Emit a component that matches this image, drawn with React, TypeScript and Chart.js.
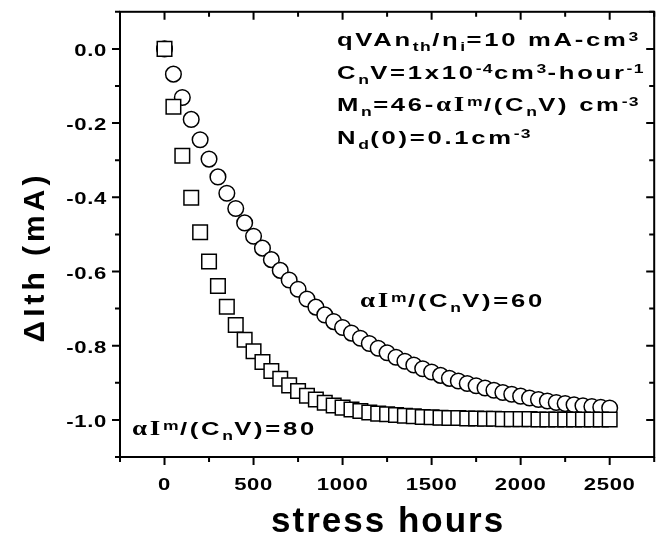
import { useEffect, useRef } from "react";
import { Chart, registerables } from "chart.js";

Chart.register(...registerables);

// ---- data ----
const HOURS = [
  0, 50, 100, 150, 200, 250, 300, 350, 400, 450, 500, 550, 600, 650, 700, 750, 800, 850, 900, 950,
  1000, 1050, 1100, 1150, 1200, 1250, 1300, 1350, 1400, 1450, 1500, 1550, 1600, 1650, 1700, 1750,
  1800, 1850, 1900, 1950, 2000, 2050, 2100, 2150, 2200, 2250, 2300, 2350, 2400, 2450, 2500,
];

// alpha I^m / (CnV) = 60  (circles)
const DELTA_ITH_60 = [
  0, -0.068, -0.131, -0.19, -0.245, -0.297, -0.345, -0.389, -0.43, -0.469, -0.505, -0.537, -0.568,
  -0.597, -0.623, -0.648, -0.674, -0.696, -0.717, -0.735, -0.751, -0.766, -0.78, -0.794, -0.807,
  -0.819, -0.831, -0.842, -0.852, -0.862, -0.871, -0.88, -0.888, -0.895, -0.902, -0.908, -0.914,
  -0.92, -0.926, -0.931, -0.936, -0.941, -0.945, -0.949, -0.953, -0.956, -0.959, -0.962, -0.964,
  -0.966, -0.968,
];

// alpha I^m / (CnV) = 80  (squares)
const DELTA_ITH_80 = [
  0, -0.156, -0.288, -0.401, -0.494, -0.573, -0.639, -0.695, -0.744, -0.784, -0.815, -0.844, -0.868,
  -0.889, -0.907, -0.922, -0.935, -0.945, -0.954, -0.961, -0.967, -0.972, -0.976, -0.98, -0.983,
  -0.985, -0.987, -0.989, -0.99, -0.992, -0.993, -0.994, -0.995, -0.995, -0.996, -0.996, -0.997,
  -0.997, -0.998, -0.998, -0.998, -0.998, -0.999, -0.999, -0.999, -0.999, -0.999, -0.999, -0.999,
  -0.999, -0.999,
];

const X_MIN = -250;
const X_MAX = 2750;
const X_STEP = 250;
const X_LABEL_STEP = 500;
const Y_MIN = -1.1;
const Y_MAX = 0.1;
const Y_STEP = 0.1;

const X_TITLE = "stress hours";
const Y_TITLE = "\u0394Ith (mA)";

// rich text runs: n = normal, b = subscript, p = superscript, g = greek/serif
type Run = [string, "n" | "b" | "p" | "g"];
const NOTE_LINES: Run[][] = [
  [["qVAn", "n"], ["th", "b"], ["/\u03b7", "n"], ["i", "b"], ["=10 mA-cm", "n"], ["3", "p"]],
  [["C", "n"], ["n", "b"], ["V=1x10", "n"], ["-4", "p"], ["cm", "n"], ["3", "p"], ["-hour", "n"], ["-1", "p"]],
  [["M", "n"], ["n", "b"], ["=46-", "n"], ["\u03b1I", "g"], ["m", "p"], ["/(C", "n"], ["n", "b"], ["V) cm", "n"], ["-3", "p"]],
  [["N", "n"], ["d", "b"], ["(0)=0.1cm", "n"], ["-3", "p"]],
];
const LABEL_60: Run[] = [["\u03b1I", "g"], ["m", "p"], ["/(C", "n"], ["n", "b"], ["V)=60", "n"]];
const LABEL_80: Run[] = [["\u03b1I", "g"], ["m", "p"], ["/(C", "n"], ["n", "b"], ["V)=80", "n"]];

const SANS = "'Liberation Sans', Arial, Helvetica, sans-serif";
const SERIF = "'Liberation Serif', 'Times New Roman', serif";
const WIDE = 1.35; // horizontal stretch of the original lettering

function drawRich(ctx: any, runs: Run[], x: number, y: number) {
  ctx.save();
  ctx.translate(x, y);
  ctx.scale(WIDE, 1);
  ctx.textAlign = "left";
  ctx.textBaseline = "alphabetic";
  let cx = 0;
  for (const [t, k] of runs) {
    let dy = 0;
    if (k === "n") {
      ctx.font = `bold 19px ${SANS}`;
      ctx.letterSpacing = "2px";
    } else if (k === "b") {
      ctx.font = `bold 13px ${SANS}`;
      ctx.letterSpacing = "1px";
      dy = 5;
    } else if (k === "p") {
      ctx.font = `bold 13px ${SANS}`;
      ctx.letterSpacing = "1px";
      dy = -5.5;
    } else {
      ctx.font = `bold 20px ${SERIF}`;
      ctx.letterSpacing = "2px";
    }
    ctx.fillText(t, cx, dy);
    cx += ctx.measureText(t).width;
  }
  ctx.restore();
}

function drawWide(ctx: any, text: string, x: number, y: number, align: string, sx: number) {
  ctx.save();
  ctx.translate(x, y);
  ctx.scale(sx, 1);
  ctx.textAlign = align;
  ctx.fillText(text, 0, 0);
  ctx.restore();
}

const isMajorX = (v: number) => v >= 0 && Math.round(v) % X_LABEL_STEP === 0;
const isMajorY = (v: number) => Math.round(v * 10) % 2 === 0;
const fmtY = (v: number) => {
  const r = Math.round(v * 10) / 10;
  return r === 0 ? "0.0" : r.toFixed(1);
};

const framePlugin = {
  id: "frameTicks",
  afterDatasetsDraw(chart: any) {
    const { ctx, chartArea: a, scales } = chart;
    const x = scales.x;
    const y = scales.y;
    ctx.save();
    ctx.strokeStyle = "#000";
    ctx.lineWidth = 2;
    ctx.strokeRect(a.left, a.top, a.right - a.left, a.bottom - a.top);
    ctx.beginPath();
    for (const t of x.ticks) {
      const px = x.getPixelForValue(t.value);
      const len = isMajorX(t.value) ? 8 : 5;
      ctx.moveTo(px, a.bottom);
      ctx.lineTo(px, a.bottom + len);
      ctx.moveTo(px, a.top);
      ctx.lineTo(px, a.top + len);
    }
    for (const t of y.ticks) {
      const py = y.getPixelForValue(t.value);
      const len = isMajorY(t.value) ? 8 : 5;
      ctx.moveTo(a.left - len, py);
      ctx.lineTo(a.left, py);
      ctx.moveTo(a.right - len, py);
      ctx.lineTo(a.right, py);
    }
    ctx.stroke();

    // tick labels (wide bold lettering)
    ctx.fillStyle = "#000";
    ctx.font = `bold 17px ${SANS}`;
    ctx.letterSpacing = "0.5px";
    ctx.textBaseline = "alphabetic";
    for (const t of x.ticks) {
      if (!isMajorX(t.value)) continue;
      drawWide(ctx, String(Math.round(t.value)), x.getPixelForValue(t.value), a.bottom + 33, "center", 1.3);
    }
    for (const t of y.ticks) {
      if (!isMajorY(t.value)) continue;
      drawWide(ctx, fmtY(t.value), a.left - 13, y.getPixelForValue(t.value) + 7, "right", 1.3);
    }
    ctx.restore();
  },
  afterDraw(chart: any) {
    const { ctx, chartArea: a } = chart;
    ctx.save();
    ctx.fillStyle = "#000";
    ctx.textBaseline = "alphabetic";
    const baselines = [46, 78.5, 111, 143.5];
    NOTE_LINES.forEach((line, i) => drawRich(ctx, line, 337, baselines[i]));
    drawRich(ctx, LABEL_60, 360, 307);
    drawRich(ctx, LABEL_80, 132, 435);
    // x title
    ctx.font = `bold 35px ${SANS}`;
    ctx.letterSpacing = "2px";
    ctx.textAlign = "center";
    ctx.fillText(X_TITLE, (a.left + a.right) / 2 + 1, 532);
    // y title
    ctx.translate(43.5, 257);
    ctx.rotate(-Math.PI / 2);
    ctx.font = `bold 30px ${SANS}`;
    ctx.letterSpacing = "4px";
    ctx.fillText(Y_TITLE, 0, 0);
    ctx.restore();
  },
};

export default function App() {
  const ref = useRef<HTMLCanvasElement | null>(null);
  useEffect(() => {
    document.body.style.margin = "0";
    const canvas = ref.current;
    if (!canvas) return;
    const chart = new Chart(canvas, {
      type: "scatter",
      data: {
        datasets: [
          {
            label: "60",
            data: HOURS.map((h, i) => ({ x: h, y: DELTA_ITH_60[i] })),
            pointStyle: "circle",
            pointRadius: 7.8,
            pointBorderWidth: 1.5,
            borderColor: "#000",
            backgroundColor: "#fff",
            order: 2,
          },
          {
            label: "80",
            data: HOURS.map((h, i) => ({ x: h, y: DELTA_ITH_80[i] })),
            pointStyle: "rect",
            pointRadius: 10.3,
            pointBorderWidth: 1.5,
            borderColor: "#000",
            backgroundColor: "#fff",
            order: 1,
          },
        ],
      },
      options: {
        animation: false,
        responsive: false,
        devicePixelRatio: 1,
        events: [],
        layout: { padding: { top: 8, right: -2.5, left: 0, bottom: 0 } },
        plugins: { legend: { display: false }, tooltip: { enabled: false } },
        scales: {
          x: {
            type: "linear",
            min: X_MIN,
            max: X_MAX,
            grid: { display: false },
            border: { display: false },
            ticks: { stepSize: X_STEP, autoSkip: false, display: false },
            afterFit: (s: any) => {
              s.height = 84;
            },
          },
          y: {
            type: "linear",
            min: Y_MIN,
            max: Y_MAX,
            grid: { display: false },
            border: { display: false },
            ticks: { stepSize: Y_STEP, autoSkip: false, display: false },
            afterFit: (s: any) => {
              s.width = 120;
            },
          },
        },
      },
      plugins: [framePlugin],
    });
    return () => chart.destroy();
  }, []);
  return <canvas ref={ref} width={666} height={541} style={{ display: "block", width: 666, height: 541 }} />;
}
